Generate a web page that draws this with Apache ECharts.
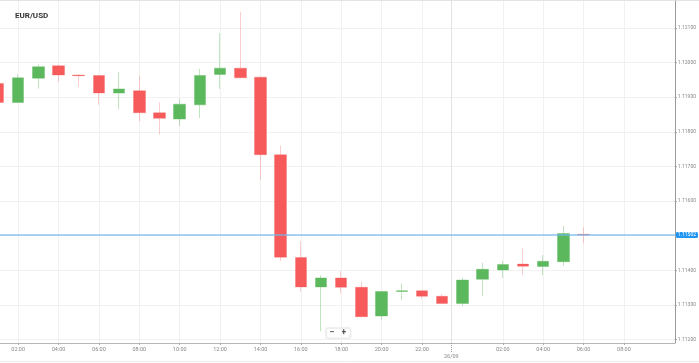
<!DOCTYPE html>
<html>
<head>
<meta charset="utf-8">
<script src="https://cdn.jsdelivr.net/npm/echarts@6/dist/echarts.min.js"></script>
<style>
html,body{margin:0;padding:0;background:#fff;}
#chart{width:699px;height:363px;}
</style>
</head>
<body>
<div id="chart"></div>
<script>
// Hours since 25/09 00:00
const hours  = [1,2,3,4,5,6,7,8,9,10,11,12,13,14,15,16,17,18,19,20,21,22,23,24,25,26,27,28,29,30];
const opens  = [1.11940,1.11885,1.11955,1.11991,1.11964,1.11963,1.11912,1.11919,1.11855,1.11837,1.11878,1.11966,1.11984,1.11958,1.11734,1.11437,1.11352,1.11378,1.11351,1.11268,1.11339,1.11341,1.11325,1.11304,1.11374,1.11401,1.11418,1.11411,1.11425,1.11504];
const closes = [1.11885,1.11956,1.11988,1.11964,1.11962,1.11912,1.11924,1.11855,1.11839,1.11880,1.11963,1.11984,1.11956,1.11734,1.11438,1.11352,1.11378,1.11351,1.11266,1.11339,1.11341,1.11325,1.11304,1.11372,1.11403,1.11417,1.11412,1.11426,1.11506,1.11502];
const lows   = [1.11884,1.11884,1.11925,1.11944,1.11930,1.11878,1.11865,1.11830,1.11792,1.11817,1.11840,1.11924,1.11955,1.11661,1.11427,1.11338,1.11224,1.11333,1.11264,1.11258,1.11314,1.11317,1.11303,1.11297,1.11325,1.11378,1.11386,1.11386,1.11413,1.11478];
const highs  = [1.11941,1.11967,1.11995,1.11995,1.11967,1.11964,1.11972,1.11962,1.11885,1.11896,1.11982,1.12085,1.12147,1.11959,1.11760,1.11484,1.11386,1.11398,1.11367,1.11340,1.11362,1.11342,1.11331,1.11378,1.11422,1.11427,1.11463,1.11444,1.11528,1.11524];

// x tick labels (hour value -> label)
const xTickValues = [2,4,6,8,10,12,14,16,18,20,22,26,28,30,32];
const xTickLabels = ['02:00','04:00','06:00','08:00','10:00','12:00','14:00','16:00','18:00','20:00','22:00','02:00','04:00','06:00','08:00'];
const daySepValue = 23.45;
const daySepLabel = '26/09';
const yTickValues = [1.112,1.113,1.114,1.115,1.116,1.117,1.118,1.119,1.120,1.121];
const title = 'EUR/USD';

const data = hours.map((h,i)=>[h, opens[i], closes[i], lows[i], highs[i]]);
const lastClose = closes[closes.length-1];

const chart = echarts.init(document.getElementById('chart'), null, {renderer:'canvas'});
const font = 'Roboto, "Noto Sans", sans-serif';
chart.setOption({
  animation:false,
  backgroundColor:'#fff',
  title:{text:title,left:10,top:7,textStyle:{fontSize:8,fontWeight:'bold',color:'#333',fontFamily:font}},
  grid:{left:0,right:23,top:1,bottom:20},
  xAxis:[{
    type:'value', min:1.1, max:34.52,
    axisLine:{show:true,onZero:false,lineStyle:{color:'#b5b5b5',width:1}},
    axisTick:{show:true,customValues:xTickValues,length:2,lineStyle:{color:'#aaa'}},
    axisLabel:{customValues:xTickValues,fontSize:5.5,color:'#888',margin:4,fontFamily:font,
      formatter:function(v){const i=xTickValues.indexOf(v);return i>=0?xTickLabels[i]:'';}},
    splitLine:{show:true,lineStyle:{color:'#f1f1f1',width:1}}
  },{
    type:'value', min:1.1, max:34.52, position:'bottom',
    axisLine:{show:false},
    axisTick:{show:true,customValues:[daySepValue],length:9,inside:false,lineStyle:{color:'#999',type:'dotted'}},
    axisLabel:{customValues:[daySepValue],fontSize:5.5,color:'#888',margin:11,fontFamily:font,
      formatter:function(){return daySepLabel;}},
    splitLine:{show:true,lineStyle:{color:'#e2e2e2',width:1}}
  }],
  yAxis:{
    type:'value', position:'right', min:1.1119, max:1.12178,
    axisLine:{show:true,lineStyle:{color:'#9a9a9a',width:1}},
    axisTick:{show:true,customValues:yTickValues,length:2,lineStyle:{color:'#999'}},
    axisLabel:{customValues:yTickValues,fontSize:5,color:'#888',margin:3,fontFamily:font,
      formatter:function(v){return v.toFixed(5);}},
    splitLine:{show:true,lineStyle:{color:'#f1f1f1',width:1}}
  },
  series:[{
    type:'line',
    name:'price',
    xAxisIndex:0,
    data:[],
    markLine:{
      silent:true, symbol:'none', animation:false, precision:5,
      lineStyle:{color:'rgba(110,185,240,0.6)',width:2,type:'solid'},
      label:{show:true,position:'end',distance:1,formatter:function(p){return Number(p.value).toFixed(5);},
        fontSize:5,color:'#fff',backgroundColor:'#2196f3',padding:[1,2,0,2],borderRadius:1.5,fontFamily:font},
      data:[{yAxis:lastClose}]
    }
  },{
    type:'candlestick',
    xAxisIndex:0,
    encode:{x:0,y:[1,2,3,4]},
    data:data,
    barWidth:12,
    z:3,
    itemStyle:{
      color:'#5cb85c', color0:'#f65a5a',
      borderColor:'rgba(92,184,92,0.38)', borderColor0:'rgba(246,90,90,0.3)',
      borderWidth:1
    }
  }],
  graphic:[
    {type:'line',shape:{x1:0,y1:0.5,x2:699,y2:0.5},style:{stroke:'#e3e3e3',lineWidth:1},silent:true},
    {type:'line',shape:{x1:0,y1:361.5,x2:699,y2:361.5},style:{stroke:'#ececec',lineWidth:1},silent:true},
    {type:'group',left:326,top:328,children:[
      {type:'rect',shape:{x:0,y:0,width:24,height:10,r:1},style:{fill:'#fff',stroke:'#e6e6e6',lineWidth:0.5,shadowBlur:2,shadowColor:'rgba(0,0,0,0.15)'}},
      {type:'text',left:3,top:0,style:{text:'−',fontSize:9,fontWeight:'bold',fill:'#555',fontFamily:font}},
      {type:'text',left:15,top:0,style:{text:'+',fontSize:9,fontWeight:'bold',fill:'#555',fontFamily:font}}
    ]}
  ]
});
</script>
</body>
</html>
